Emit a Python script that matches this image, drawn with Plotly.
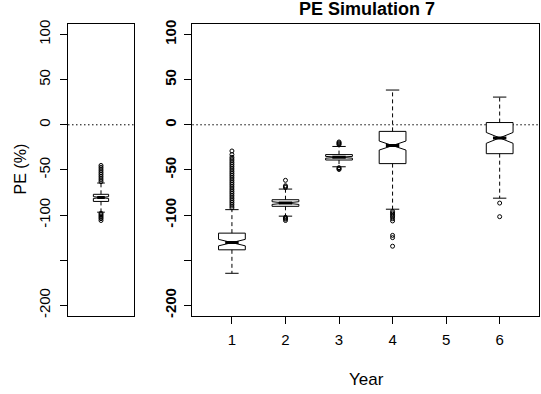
import plotly.graph_objects as go

# ---------------- data ----------------
# Left panel: pooled PE distribution
pool_q1 = [-84.9]
pool_median = [-80.6]
pool_q3 = [-77.0]
pool_lower = [-96.8]
pool_upper = [-64.5]
pool_notch = [1.0]
pool_out = [-45, -47, -49, -51, -53, -55, -57, -59, -61, -63,
            -98, -99.5, -101, -102.5, -104, -106]

# Right panel: by year (year 5 has no data)
years = [1, 2, 3, 4, 6]
q1 = [-138.5, -90.3, -39.0, -43.0, -32.0]
median = [-130.5, -86.7, -36.0, -23.0, -14.5]
q3 = [-120.0, -83.0, -33.0, -7.3, 2.5]
lower = [-164.5, -101.2, -46.5, -93.5, -81.3]
upper = [-94.0, -71.2, -24.0, 38.5, 30.7]
notch = [3.6, 1.5, 1.0, 5.0, 6.0]

out_y1 = [-29, -33, -36, -38, -40, -42, -44, -46, -48, -50, -52, -54, -56,
          -58, -60, -62, -64, -66, -68, -70, -72, -74, -76, -78, -80, -82,
          -84, -86, -88, -90, -92]
out_y2 = [-61.5, -67.5, -68.5, -69.5, -102.5, -103.5, -104.5, -106]
out_y3 = [-19, -20, -21, -22, -47.5, -48.5, -49.5]
out_y4 = [-96, -97.5, -99, -100.5, -102, -104, -106.5, -122.5, -125, -134.5]
out_y6 = [-86.7, -101.8]
outliers = {1: out_y1, 2: out_y2, 3: out_y3, 4: out_y4, 6: out_y6}

year_ticks = [1, 2, 3, 4, 5, 6]
y_ticks = [-200, -150, -100, -50, 0, 50, 100]
y_ticktext = ["-200", "", "-100", "-50", "0", "50", "100"]

# ---------------- styling ----------------
FONT = "Liberation Sans, Arial, Helvetica, sans-serif"
BOXW_R = 0.5
BOXW_L = 0.25
NOTCHW = 0.5
WHISK_DASH = "4px,3px"

fig = go.Figure()


def add_panel(xs, q1s, meds, q3s, lows, ups, notches, outs, bw, xa, ya):
    fig.add_trace(go.Box(
        x=xs, q1=q1s, median=meds, q3=q3s, lowerfence=q1s, upperfence=q3s,
        notchspan=notches, notched=True, notchwidth=NOTCHW, width=bw,
        whiskerwidth=0, boxpoints=False, fillcolor="white",
        line=dict(color="black", width=1), xaxis=xa, yaxis=ya,
        showlegend=False, hoverinfo="skip"))
    # dashed whiskers
    wx, wy = [], []
    for x, a, b, lo, hi in zip(xs, q1s, q3s, lows, ups):
        wx += [x, x, None, x, x, None]
        wy += [b, hi, None, a, lo, None]
    fig.add_trace(go.Scatter(x=wx, y=wy, mode="lines",
                             line=dict(color="black", width=1, dash=WHISK_DASH),
                             xaxis=xa, yaxis=ya, showlegend=False, hoverinfo="skip"))
    # staples
    sx, sy = [], []
    for x, lo, hi in zip(xs, lows, ups):
        sx += [x - bw / 4, x + bw / 4, None, x - bw / 4, x + bw / 4, None]
        sy += [hi, hi, None, lo, lo, None]
    fig.add_trace(go.Scatter(x=sx, y=sy, mode="lines",
                             line=dict(color="black", width=1),
                             xaxis=xa, yaxis=ya, showlegend=False, hoverinfo="skip"))
    # thick medians
    mx, my = [], []
    hw = bw / 2 * (1 - NOTCHW)
    for x, m in zip(xs, meds):
        mx += [x - hw, x + hw, None]
        my += [m, m, None]
    fig.add_trace(go.Scatter(x=mx, y=my, mode="lines",
                             line=dict(color="black", width=3),
                             xaxis=xa, yaxis=ya, showlegend=False, hoverinfo="skip"))
    # outliers
    ox, oy = [], []
    for x, vals in outs.items():
        ox += [x] * len(vals)
        oy += vals
    fig.add_trace(go.Scatter(x=ox, y=oy, mode="markers",
                             marker=dict(symbol="circle-open", size=4, color="black",
                                         line=dict(width=1, color="black")),
                             xaxis=xa, yaxis=ya, showlegend=False, hoverinfo="skip"))


add_panel([1], pool_q1, pool_median, pool_q3, pool_lower, pool_upper, pool_notch,
          {1: pool_out}, BOXW_L, "x", "y")
add_panel(years, q1, median, q3, lower, upper, notch, outliers, BOXW_R, "x2", "y2")

W, H = 541, 394
ydom = [1 - 317 / H, 1 - 20 / H]

common_y = dict(range=[-212, 112], tickvals=y_ticks, ticktext=y_ticktext,
                tickangle=-90, ticks="outside", ticklen=7, tickwidth=1,
                tickcolor="black", showline=True, linecolor="black", linewidth=1,
                mirror=True, showgrid=False, zeroline=False, domain=ydom)

fig.update_layout(
    width=W, height=H, margin=dict(l=0, r=0, t=0, b=0),
    paper_bgcolor="white", plot_bgcolor="white",
    font=dict(family=FONT, color="black", size=15),
    xaxis=dict(domain=[68 / W, 134 / W], range=[0.46, 1.54], showticklabels=False,
               ticks="", showline=True, linecolor="black", linewidth=1, mirror=True,
               showgrid=False, zeroline=False, anchor="y"),
    yaxis=dict(**common_y, anchor="x", tickfont=dict(size=15, family=FONT),
               ticklabelstandoff=4),
    xaxis2=dict(domain=[192.3 / W, 539.3 / W], range=[0.26, 6.74],
                tickvals=year_ticks, ticktext=[str(t) for t in year_ticks],
                ticks="outside", ticklen=7, tickwidth=1, tickcolor="black",
                showline=True, linecolor="black", linewidth=1, mirror=True,
                showgrid=False, zeroline=False, anchor="y2",
                tickfont=dict(size=15, family=FONT), ticklabelstandoff=3),
    yaxis2=dict(**common_y, anchor="x2",
                tickfont=dict(size=15, family=FONT, weight="bold"),
                ticklabelstandoff=2),
    shapes=[
        dict(type="line", xref="x domain", yref="y", x0=0, x1=1, y0=0, y1=0,
             line=dict(color="black", width=1, dash="1.5px,2.5px"), layer="below"),
        dict(type="line", xref="x2 domain", yref="y2", x0=0, x1=1, y0=0, y1=0,
             line=dict(color="black", width=1, dash="1.5px,2.5px"), layer="below"),
    ],
    annotations=[
        dict(text="PE Simulation 7", x=367 / W, y=1 - 5 / H, xref="paper", yref="paper",
             showarrow=False, xanchor="center", yanchor="middle",
             font=dict(size=18, family=FONT, weight="bold")),
        dict(text="Year", x=366 / W, y=1 - 381 / H, xref="paper", yref="paper",
             showarrow=False, xanchor="center", yanchor="middle",
             font=dict(size=17, family=FONT)),
        dict(text="PE (%)", x=20 / W, y=1 - 168 / H, xref="paper", yref="paper",
             showarrow=False, xanchor="center", yanchor="middle", textangle=-90,
             font=dict(size=16, family=FONT)),
    ],
)

fig.write_html("out.html")
